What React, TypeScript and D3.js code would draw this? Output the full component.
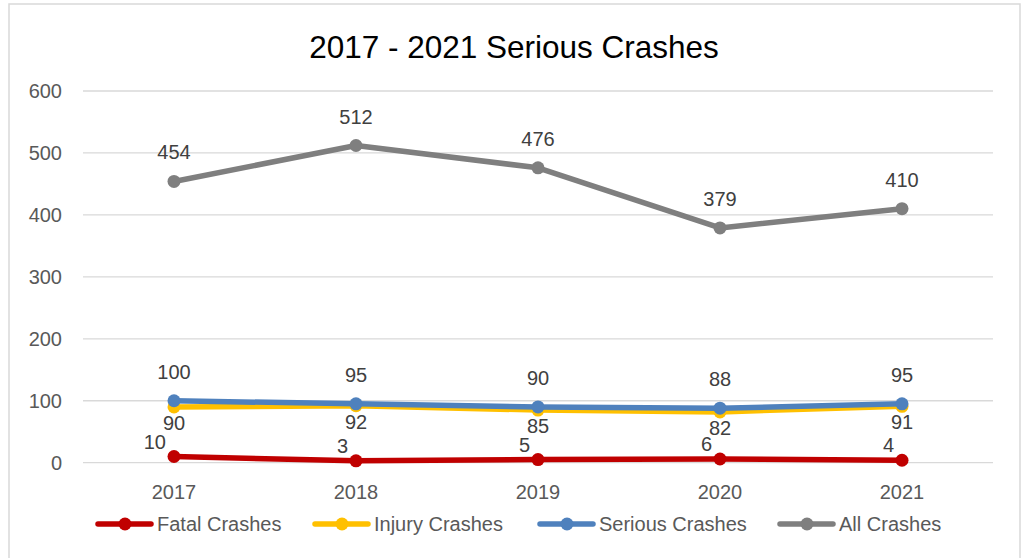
import React from "react";
import * as d3 from "d3";

const years = ["2017", "2018", "2019", "2020", "2021"];
const fatal = [10, 3, 5, 6, 4];
const injury = [90, 92, 85, 82, 91];
const serious = [100, 95, 90, 88, 95];
const allCrashes = [454, 512, 476, 379, 410];
const yTicks = [0, 100, 200, 300, 400, 500, 600];
const seriesNames = ["Fatal Crashes", "Injury Crashes", "Serious Crashes", "All Crashes"];
const seriesColors = ["#C00000", "#FFC000", "#4F81BD", "#7F7F7F"];
const labelModes = ["left", "below", "above", "above"];

const W = 1026;
const H = 558;
const FONT = "'Liberation Sans', Arial, sans-serif";

export default function App() {
  const x = d3.scaleBand<string>().domain(years).range([83, 993]);
  const y = d3.scaleLinear().domain([0, 600]).range([462.7, 91]);
  const cx = (d: string) => (x(d) as number) + x.bandwidth() / 2;
  const allSeries = [fatal, injury, serious, allCrashes];
  const line = d3
    .line<number>()
    .x((_, i) => cx(years[i]))
    .y((v) => y(v));
  const legendX = [98, 315, 540, 780];

  return (
    <svg
      width={W}
      height={H}
      style={{ position: "absolute", left: 0, top: 0, background: "#fff" }}
      fontFamily={FONT}
    >
      <rect x={0} y={0} width={W} height={H} fill="#fff" />
      <rect x={9} y={4} width={1011} height={H + 10} fill="none" stroke="#D9D9D9" strokeWidth={1.5} />
      <text x={514} y={58} textAnchor="middle" fontSize={31.5} fill="#000">
        2017 - 2021 Serious Crashes
      </text>
      {yTicks.map((t) => (
        <g key={t}>
          <line x1={83} x2={993} y1={y(t)} y2={y(t)} stroke="#D9D9D9" strokeWidth={1.3} />
          <text x={62} y={y(t) + 7} textAnchor="end" fontSize={20} fill="#595959">
            {t}
          </text>
        </g>
      ))}
      {years.map((yr) => (
        <text key={yr} x={cx(yr)} y={499} textAnchor="middle" fontSize={20} fill="#595959">
          {yr}
        </text>
      ))}
      {allSeries.map((vals, si) => (
        <g key={si}>
          <path d={line(vals) || ""} fill="none" stroke={seriesColors[si]} strokeWidth={5.5} strokeLinejoin="round" strokeLinecap="round" />
          {vals.map((v, i) => (
            <circle key={i} cx={cx(years[i])} cy={y(v)} r={6.5} fill={seriesColors[si]} />
          ))}
        </g>
      ))}
      {allSeries.map((vals, si) => (
        <g key={"l" + si}>
          {vals.map((v, i) => {
            const px = cx(years[i]);
            const py = y(v);
            const mode = labelModes[si];
            if (mode === "left")
              return (
                <text key={i} x={px - 8} y={py - 8} textAnchor="end" fontSize={20} fill="#404040">
                  {v}
                </text>
              );
            return (
              <text key={i} x={px} y={mode === "above" ? py - 22 : py + 23} textAnchor="middle" fontSize={20} fill="#404040">
                {v}
              </text>
            );
          })}
        </g>
      ))}
      {seriesNames.map((name, i) => (
        <g key={name}>
          <line x1={legendX[i]} x2={legendX[i] + 53} y1={524} y2={524} stroke={seriesColors[i]} strokeWidth={5.5} strokeLinecap="round" />
          <circle cx={legendX[i] + 27} cy={524} r={6.5} fill={seriesColors[i]} />
          <text x={legendX[i] + 59} y={531} fontSize={20} fill="#595959">
            {name}
          </text>
        </g>
      ))}
    </svg>
  );
}
